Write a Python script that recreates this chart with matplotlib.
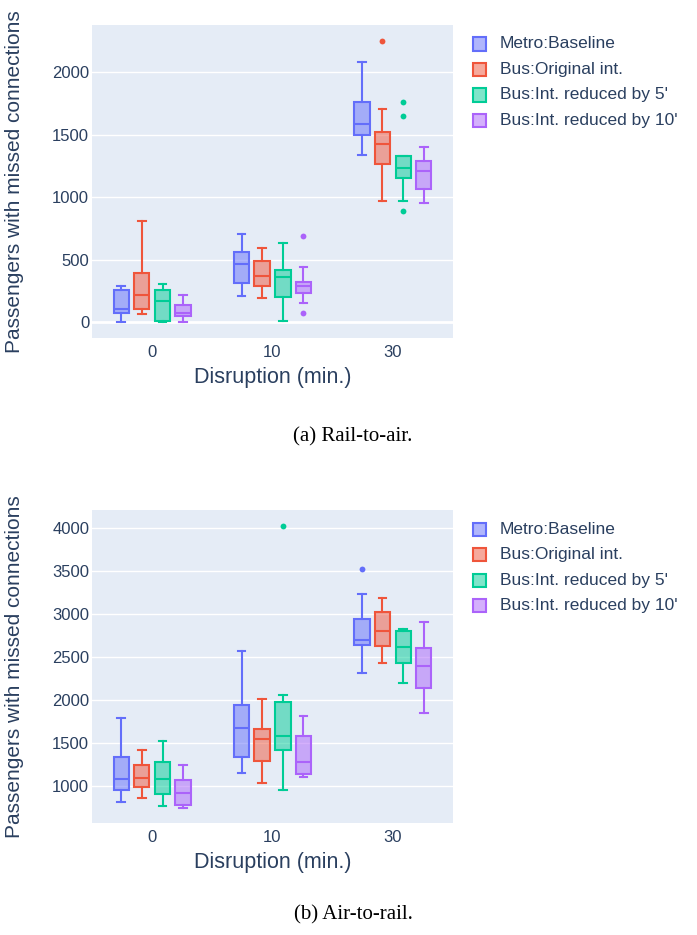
import numpy as np
import matplotlib.pyplot as plt

plt.rcParams['font.family'] = ['Liberation Sans', 'DejaVu Sans']

groups = ['0', '10', '30']
series = ['Metro:Baseline', 'Bus:Original int.', 'Bus:Int. reduced by 5\'', 'Bus:Int. reduced by 10\'']
colors = ['#636EFA', '#EF553B', '#00CC96', '#AB63FA']

# box stats per group: [whislo, q1, med, q3, whishi]
rail_metro = [[0, 72, 109, 255, 287], [210, 314, 463, 564, 705], [1338, 1495, 1588, 1761, 2083]]
rail_bus = [[64, 104, 221, 391, 806], [194, 287, 372, 492, 593], [968, 1269, 1423, 1524, 1705]]
rail_int5 = [[0, 8, 168, 258, 303], [13, 202, 359, 418, 636], [968, 1157, 1237, 1333, 1333]]
rail_int10 = [[5, 51, 74, 141, 218], [157, 237, 293, 325, 444], [955, 1067, 1210, 1293, 1402]]
rail_fliers = [
    [[], [], []],
    [[], [], [2250]],
    [[], [], [1758, 1647, 891]],
    [[], [692, 74], []],
]

air_metro = [[818, 957, 1085, 1333, 1791], [1151, 1333, 1671, 1938, 2570], [2314, 2640, 2705, 2950, 3236]]
air_bus = [[860, 984, 1089, 1244, 1419], [1039, 1295, 1543, 1667, 2019], [2438, 2628, 2802, 3031, 3190]]
air_int5 = [[764, 911, 1085, 1279, 1527], [957, 1419, 1585, 1973, 2062], [2198, 2430, 2616, 2806, 2826]]
air_int10 = [[740, 783, 922, 1066, 1240], [1105, 1143, 1275, 1578, 1810], [1853, 2147, 2403, 2605, 2911]]
air_fliers = [
    [[], [], [3531]],
    [[], [], []],
    [[], [4027], []],
    [[], [], []],
]

W, H = 697, 935
fig = plt.figure(figsize=(W / 100, H / 100), dpi=100)

txt = '#2a3f5f'
offsets = [-0.257, -0.087, 0.087, 0.257]
bw = 0.127


def panel(top_px, data, fliers, ylim, yticks, caption, cap_y):
    ax = fig.add_axes([92 / W, 1 - (top_px + 313) / H, 361 / W, 313 / H])
    ax.set_facecolor('#E5ECF6')
    for sp in ax.spines.values():
        sp.set_visible(False)
    ax.set_axisbelow(True)
    ax.grid(axis='y', color='white', linewidth=1.0)
    if ylim[0] < 0:
        ax.axhline(0, color='white', linewidth=2, zorder=0.5)

    for k, (stats_list, col) in enumerate(zip(data, colors)):
        stats = []
        for g, s in enumerate(stats_list):
            stats.append(dict(whislo=s[0], q1=s[1], med=s[2], q3=s[3], whishi=s[4],
                              fliers=fliers[k][g]))
        pos = np.arange(len(groups)) + offsets[k]
        ax.bxp(stats, positions=pos, widths=bw, capwidths=bw * 0.5, patch_artist=True,
               showfliers=True, manage_ticks=False,
               boxprops=dict(facecolor=col + '80', edgecolor=col, linewidth=1.5),
               medianprops=dict(color=col, linewidth=1.5),
               whiskerprops=dict(color=col, linewidth=1.5),
               capprops=dict(color=col, linewidth=1.5),
               flierprops=dict(marker='o', markerfacecolor=col, markeredgecolor='none',
                               markersize=4.2))
        # legend entry
        ly = top_px + 19 + 25.5 * k
        fig.patches.append(plt.Rectangle((473 / W, 1 - (ly + 6.5) / H), 13 / W, 13 / H,
                                         transform=fig.transFigure, facecolor=col + '80',
                                         edgecolor=col, linewidth=1.5))
        fig.text(500 / W, 1 - ly / H, series[k], fontsize=12.5, color=txt, va='center')

    ax.set_xlim(-0.5, 2.5)
    ax.set_ylim(*ylim)
    ax.set_xticks(range(len(groups)))
    ax.set_xticklabels(groups)
    ax.set_yticks(yticks)
    ax.tick_params(length=0, labelsize=12, labelcolor=txt)
    ax.tick_params(axis='y', pad=2)
    ax.tick_params(axis='x', pad=5)
    ax.set_xlabel('Disruption (min.)', fontsize=15.5, color=txt, labelpad=5)
    ax.set_ylabel('Passengers with missed connections', fontsize=15, color=txt)
    ax.yaxis.set_label_coords(-68 / 361, 0.5)
    fig.text(353 / W, 1 - cap_y / H, caption, fontsize=15, family='Liberation Serif',
             ha='center', va='center')
    return ax


panel(25, [rail_metro, rail_bus, rail_int5, rail_int10], rail_fliers,
      (-125, 2376), [0, 500, 1000, 1500, 2000], '(a) Rail-to-air.', 437)
panel(510, [air_metro, air_bus, air_int5, air_int10], air_fliers,
      (570, 4213), [1000, 1500, 2000, 2500, 3000, 3500, 4000], '(b) Air-to-rail.', 915)

fig.savefig('out.png', dpi=100)
